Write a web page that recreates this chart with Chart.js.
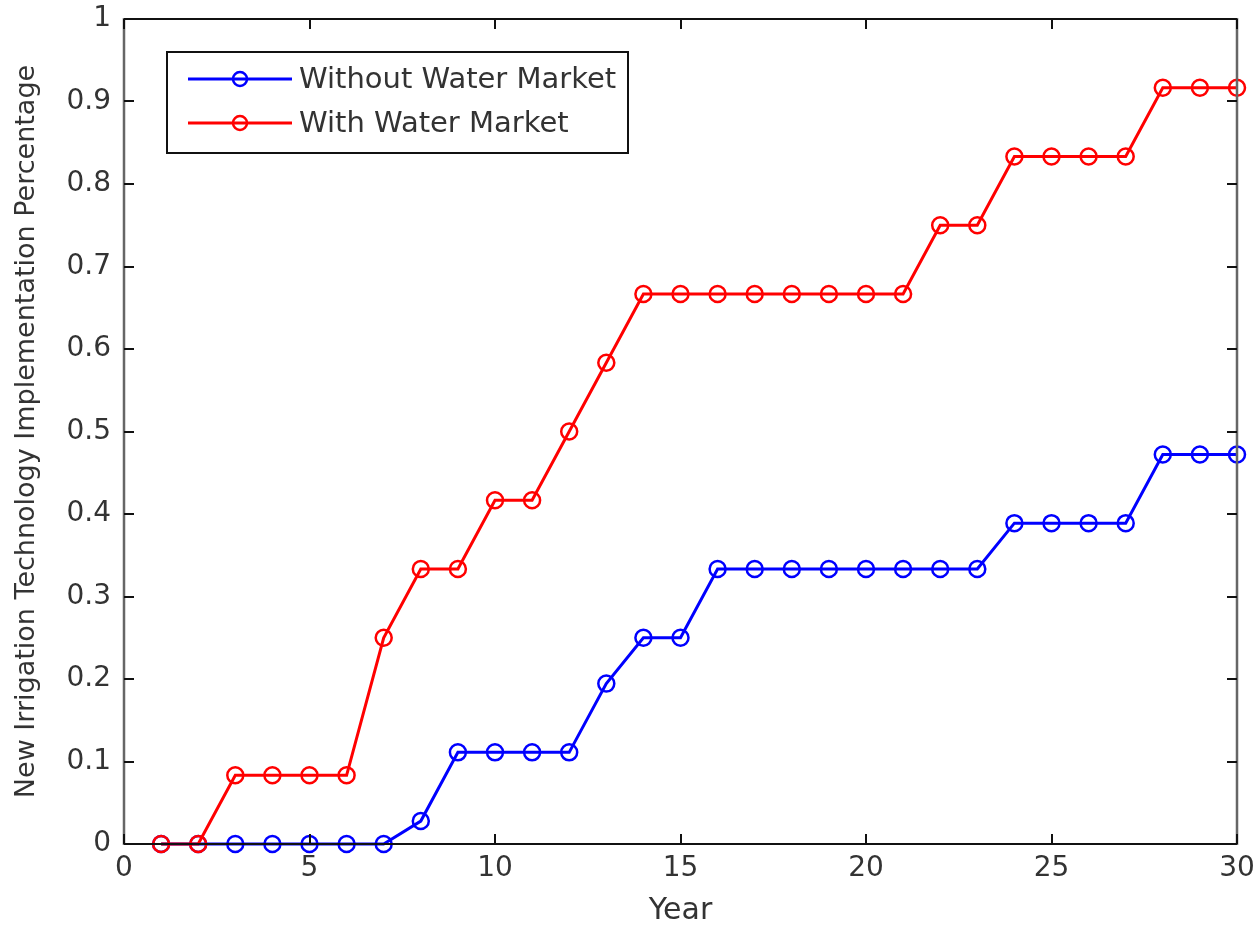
<!DOCTYPE html>
<html>
<head>
<meta charset="utf-8">
<script src="https://cdn.jsdelivr.net/npm/chart.js@4/dist/chart.umd.min.js"></script>
<style>
  html, body { margin: 0; padding: 0; background: #fff; }
  #wrap { width: 1257px; height: 926px; }
</style>
</head>
<body>
<div id="wrap"><canvas id="grafico" width="1257" height="926"></canvas></div>
<script>
// Dados
const anos = [1, 2, 3, 4, 5, 6, 7, 8, 9, 10, 11, 12, 13, 14, 15, 16, 17, 18, 19, 20, 21, 22, 23, 24, 25, 26, 27, 28, 29, 30];
const semMercado = [0, 0, 0, 0, 0, 0, 0, 0.0278, 0.1111, 0.1111, 0.1111, 0.1111, 0.1944, 0.25, 0.25,
  0.3333, 0.3333, 0.3333, 0.3333, 0.3333, 0.3333, 0.3333, 0.3333, 0.3889, 0.3889, 0.3889, 0.3889, 0.4722, 0.4722, 0.4722];
const comMercado = [0, 0, 0.0833, 0.0833, 0.0833, 0.0833, 0.25, 0.3333, 0.3333, 0.4167, 0.4167, 0.5, 0.5833, 0.6667, 0.6667,
  0.6667, 0.6667, 0.6667, 0.6667, 0.6667, 0.6667, 0.75, 0.75, 0.8333, 0.8333, 0.8333, 0.8333, 0.9167, 0.9167, 0.9167];
const rotulos = ['Without Water Market', 'With Water Market'];
const xTicks = [0, 5, 10, 15, 20, 25, 30];
const yTicks = [0, 0.1, 0.2, 0.3, 0.4, 0.5, 0.6, 0.7, 0.8, 0.9, 1];

const fonte = '"DejaVu Sans", Verdana, sans-serif';
const corTexto = '#333';

function pontos(valores) {
  return anos.map((a, i) => ({ x: a, y: valores[i] }));
}

// Caixa estilo MATLAB com ticks para dentro + legenda
const caixaPlugin = {
  id: 'caixa',
  afterDraw(chart) {
    const ctx = chart.ctx;
    const a = chart.chartArea;
    const sx = chart.scales.x;
    const sy = chart.scales.y;
    ctx.save();
    // bordas horizontais
    ctx.strokeStyle = '#111';
    ctx.lineWidth = 2;
    ctx.beginPath();
    ctx.moveTo(a.left, a.top); ctx.lineTo(a.right, a.top);
    ctx.moveTo(a.left, a.bottom); ctx.lineTo(a.right, a.bottom);
    ctx.stroke();
    // bordas verticais
    ctx.strokeStyle = '#666';
    ctx.lineWidth = 2.5;
    ctx.beginPath();
    ctx.moveTo(a.left, a.top - 1); ctx.lineTo(a.left, a.bottom + 1);
    ctx.moveTo(a.right, a.top - 1); ctx.lineTo(a.right, a.bottom + 1);
    ctx.stroke();
    const t = 10;
    ctx.strokeStyle = '#111';
    ctx.lineWidth = 2;
    ctx.beginPath();
    xTicks.forEach(v => {
      const px = Math.round(sx.getPixelForValue(v));
      ctx.moveTo(px, a.bottom); ctx.lineTo(px, a.bottom - t);
      ctx.moveTo(px, a.top); ctx.lineTo(px, a.top + t);
    });
    yTicks.forEach(v => {
      const py = Math.round(sy.getPixelForValue(v));
      ctx.moveTo(a.left, py); ctx.lineTo(a.left + t, py);
      ctx.moveTo(a.right, py); ctx.lineTo(a.right - t, py);
    });
    ctx.stroke();

    // Legenda
    const lx = 167, ly = 52, lw = 461, lh = 101;
    ctx.fillStyle = '#fff';
    ctx.fillRect(lx, ly, lw, lh);
    ctx.strokeStyle = '#111';
    ctx.lineWidth = 2;
    ctx.strokeRect(lx, ly, lw, lh);
    chart.data.datasets.forEach((ds, i) => {
      const yy = ly + 27 + i * 44;
      ctx.strokeStyle = ds.borderColor;
      ctx.lineWidth = 3;
      ctx.beginPath();
      ctx.moveTo(188, yy); ctx.lineTo(292, yy);
      ctx.stroke();
      ctx.lineWidth = 2.5;
      ctx.beginPath();
      ctx.arc(240, yy, 7, 0, Math.PI * 2);
      ctx.stroke();
      ctx.fillStyle = corTexto;
      ctx.font = '29px ' + fonte;
      ctx.textAlign = 'left';
      ctx.textBaseline = 'middle';
      ctx.fillText(ds.label, 299, yy + 1);
    });
    ctx.restore();
  }
};

const ctx = document.getElementById('grafico').getContext('2d');
new Chart(ctx, {
  type: 'line',
  data: {
    datasets: [
      {
        label: rotulos[0],
        data: pontos(semMercado),
        borderColor: '#0000ff',
        backgroundColor: 'rgba(0,0,0,0)',
        borderWidth: 3,
        pointRadius: 8,
        pointBorderWidth: 2.5,
        pointBackgroundColor: 'rgba(0,0,0,0)',
        pointBorderColor: '#0000ff',
        tension: 0,
        order: 2
      },
      {
        label: rotulos[1],
        data: pontos(comMercado),
        borderColor: '#ff0000',
        backgroundColor: 'rgba(0,0,0,0)',
        borderWidth: 3,
        pointRadius: 8,
        pointBorderWidth: 2.5,
        pointBackgroundColor: 'rgba(0,0,0,0)',
        pointBorderColor: '#ff0000',
        tension: 0,
        order: 1
      }
    ]
  },
  options: {
    responsive: false,
    animation: false,
    clip: false,
    layout: { padding: { top: 19, right: 20, left: 0, bottom: 0 } },
    plugins: {
      legend: { display: false },
      tooltip: { enabled: false }
    },
    scales: {
      x: {
        type: 'linear',
        min: 0,
        max: 30,
        afterFit(scale) {
          scale.height = 82;
          scale.paddingLeft = 0;
          scale.paddingRight = 0;
        },
        afterBuildTicks(scale) { scale.ticks = xTicks.map(v => ({ value: v })); },
        grid: { display: false, drawTicks: false },
        border: { display: false },
        ticks: {
          color: corTexto,
          font: { family: fonte, size: 28 },
          padding: 8,
          maxRotation: 0
        },
        title: {
          display: true,
          text: 'Year',
          color: corTexto,
          font: { family: fonte, size: 30, lineHeight: 1 },
          padding: { top: 0, bottom: 0 }
        }
      },
      y: {
        min: 0,
        max: 1,
        afterFit(scale) {
          scale.width = 124;
          scale.paddingTop = 0;
          scale.paddingBottom = 0;
        },
        afterBuildTicks(scale) { scale.ticks = yTicks.map(v => ({ value: v })); },
        grid: { display: false, drawTicks: false },
        border: { display: false },
        ticks: {
          color: corTexto,
          font: { family: fonte, size: 28 },
          padding: 13,
          callback: v => String(Math.round(v * 10) / 10)
        },
        title: {
          display: true,
          text: 'New Irrigation Technology Implementation Percentage',
          color: corTexto,
          font: { family: fonte, size: 27 },
          padding: { top: 11, bottom: 0 }
        }
      }
    }
  },
  plugins: [caixaPlugin]
});
</script>
</body>
</html>
